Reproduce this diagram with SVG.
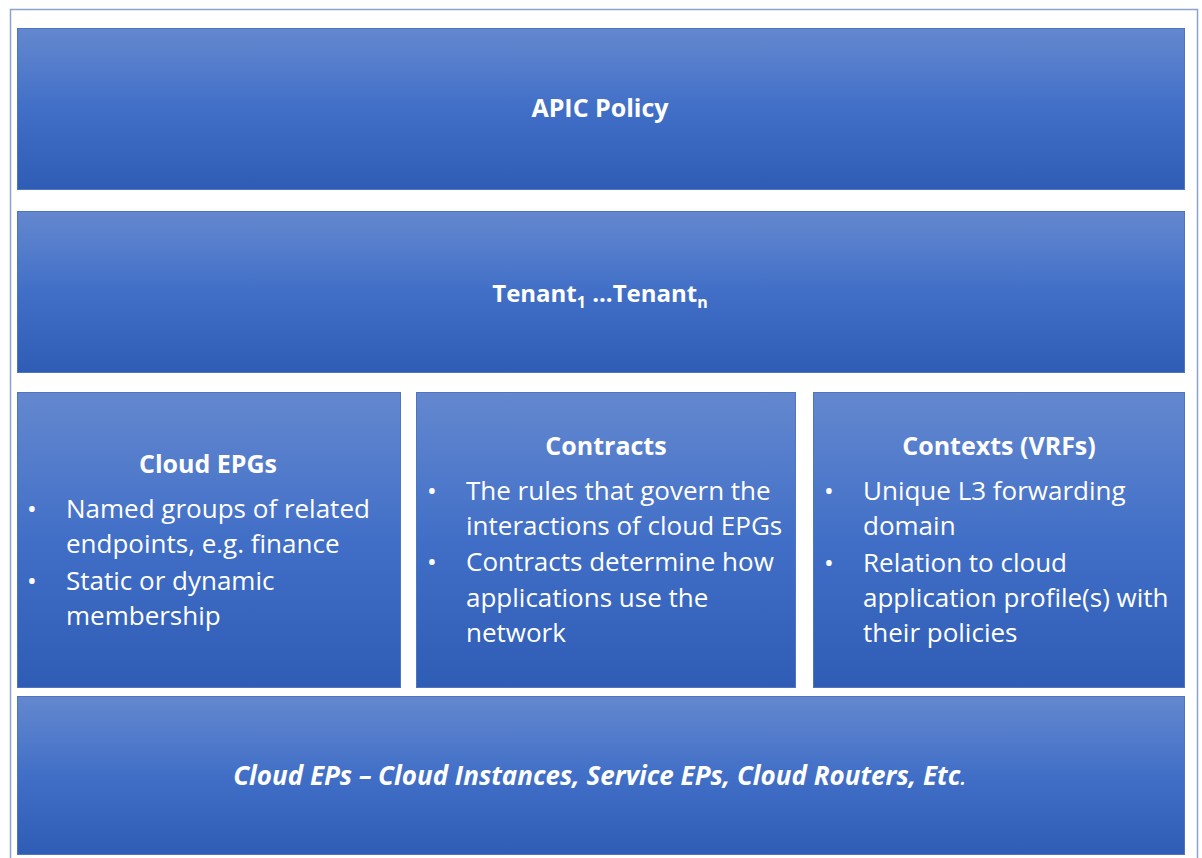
<svg xmlns="http://www.w3.org/2000/svg" width="1202" height="858" viewBox="0 0 1202 858">
<defs>
<linearGradient id="g" x1="0" y1="0" x2="0" y2="1">
<stop offset="0" stop-color="#6488cf"/>
<stop offset="0.5" stop-color="#416fc7"/>
<stop offset="1" stop-color="#2f5db6"/>
</linearGradient>
</defs>
<style>
.box{fill:url(#g);stroke:#4f74c0;stroke-width:1}
.t{font-family:"Open Sans","Liberation Sans",sans-serif;fill:#ffffff}
.h{font-weight:bold;font-size:25px;text-anchor:middle}
.b{font-size:26px}
</style>
<rect x="0" y="0" width="1202" height="858" fill="#ffffff"/>
<rect x="10.5" y="9.5" width="1187" height="852" fill="#ffffff" stroke="#8aa2cc" stroke-width="1.5"/>
<g id="apic">
<rect class="box" x="17.5" y="28.5" width="1167" height="161"/>
<text class="t h" x="600" y="117">APIC Policy</text>
</g>
<g id="tenant">
<rect class="box" x="17.5" y="211.5" width="1167" height="161"/>
<text class="t h" x="600" y="302" style="font-size:24px">Tenant<tspan style="font-size:16px" dy="6">1</tspan><tspan dy="-6"> ...Tenant</tspan><tspan style="font-size:16px" dy="6">n</tspan></text>
</g>
<g id="cloud-epgs">
<rect class="box" x="17.5" y="392.5" width="383" height="295"/>
<text class="t h" x="208" y="473">Cloud EPGs</text>
<text class="t b" x="27" y="518">•</text>
<text class="t b" x="66" y="518">Named groups of related</text>
<text class="t b" x="66" y="553">endpoints, e.g. finance</text>
<text class="t b" x="27" y="590">•</text>
<text class="t b" x="66" y="590">Static or dynamic</text>
<text class="t b" x="66" y="625">membership</text>
</g>
<g id="contracts">
<rect class="box" x="416.5" y="392.5" width="379" height="295"/>
<text class="t h" x="606" y="455">Contracts</text>
<text class="t b" x="427" y="500">•</text>
<text class="t b" x="466" y="500">The rules that govern the</text>
<text class="t b" x="466" y="535">interactions of cloud EPGs</text>
<text class="t b" x="427" y="571">•</text>
<text class="t b" x="466" y="571">Contracts determine how</text>
<text class="t b" x="466" y="607">applications use the</text>
<text class="t b" x="466" y="642">network</text>
</g>
<g id="contexts">
<rect class="box" x="813.5" y="392.5" width="371" height="295"/>
<text class="t h" x="999" y="455">Contexts (VRFs)</text>
<text class="t b" x="824" y="500">•</text>
<text class="t b" x="863" y="500">Unique L3 forwarding</text>
<text class="t b" x="863" y="535">domain</text>
<text class="t b" x="824" y="572">•</text>
<text class="t b" x="863" y="572">Relation to cloud</text>
<text class="t b" x="863" y="607">application profile(s) with</text>
<text class="t b" x="863" y="642">their policies</text>
</g>
<g id="cloud-eps">
<rect class="box" x="17.5" y="696.5" width="1167" height="158"/>
<text class="t h" x="600" y="785" style="font-size:26px;font-style:italic">Cloud EPs – Cloud Instances, Service EPs, Cloud Routers, Etc<tspan style="font-weight:normal">.</tspan></text>
</g>
<g id="connectors"></g>
</svg>
